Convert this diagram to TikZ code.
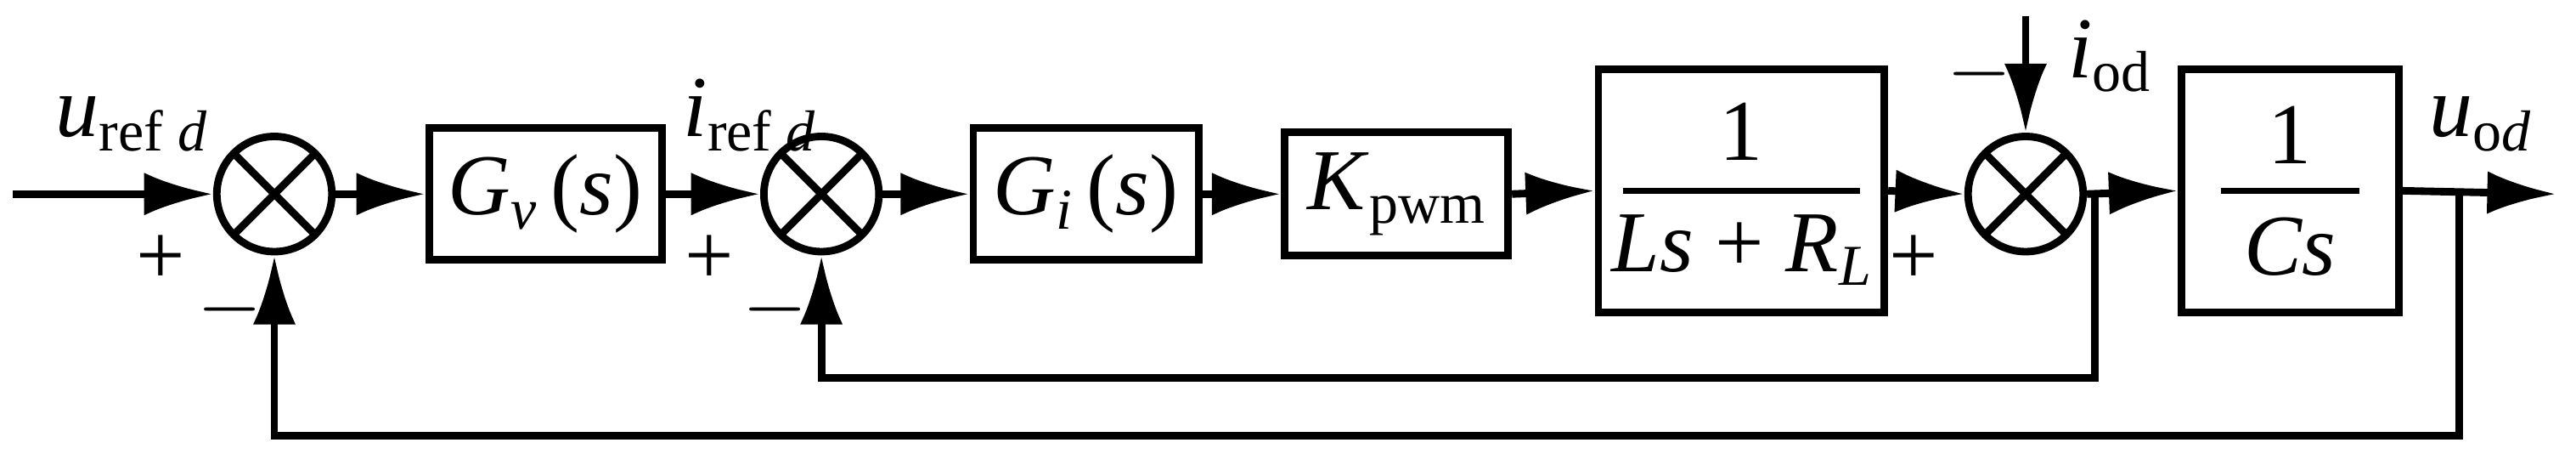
\documentclass[tikz,border=0pt]{standalone}
\usepackage{fontspec}
\setmainfont{Liberation Serif}
\usetikzlibrary{arrows.meta}
\newcommand{\vi}[1]{\textit{#1}}
\newcommand{\sbs}[1]{\raisebox{-0.35ex}{\fontsize{10}{11}\selectfont #1}}
\begin{document}
\begin{tikzpicture}[x=0.01cm,y=-0.01cm,line width=1.3pt,
  sum/.style={draw,circle,minimum size=0.7cm,inner sep=0pt,path picture={\draw (path picture bounding box.north west)--(path picture bounding box.south east) (path picture bounding box.north east)--(path picture bounding box.south west);}},
  arr/.style={-{Latex[length=0.42cm,width=0.26cm]}},
  lbl/.style={font=\fontsize{15}{17}\selectfont}]
\useasboundingbox (0,0) rectangle (1568,276);
\node[sum] (s1) at (167,118) {};
\node[sum] (s2) at (500,118) {};
\node[sum] (s3) at (1233,118) {};
\node[draw,minimum width=1.35cm,minimum height=0.8cm,lbl] (gv) at (332,118) {\vi{G}\sbs{\vi{v}}\,(\vi{s})};
\node[draw,minimum width=1.37cm,minimum height=0.8cm,lbl] (gi) at (661,118) {\vi{G}\sbs{\vi{i}}\,(\vi{s})};
\node[draw,minimum width=1.36cm,minimum height=0.75cm,lbl] (kp) at (850,118) {\vi{K}\sbs{pwm}};
\node[draw,minimum width=1.74cm,minimum height=1.48cm] (pl) at (1060,116) {};
\node[lbl] at (1060,80) {1};
\draw[line width=1pt] (988,116)--(1132,116);
\node[lbl] at (1060,152) {\vi{Ls} + \vi{R}\sbs{\vi{L}}};
\node[draw,minimum width=1.32cm,minimum height=1.48cm] (cs) at (1394,116) {};
\node[lbl] at (1394,82) {1};
\draw[line width=1pt] (1352,116)--(1436,116);
\node[lbl] at (1394,150) {\vi{Cs}};
\coordinate (in) at (8,118);
\coordinate (out) at (1556,118);
\coordinate (top) at (1233,10);
\coordinate (b1) at (1275,230);
\coordinate (b2) at (1497,265);
\draw[arr] (in)--(s1.west);
\draw[arr] (s1.east)--(gv.west);
\draw[arr] (gv.east)--(s2.west);
\draw[arr] (s2.east)--(gi.west);
\draw[arr] (gi.east)--(kp.west);
\draw[arr] (kp.east)--(pl.west);
\draw[arr] (pl.east)--(s3.west);
\draw[arr] (s3.east)--(cs.west);
\draw[arr] (cs.east)--(out);
\draw[arr] (top)--(s3.north);
\draw[arr] (1275,118)--(b1)-|(s2.south);
\draw[arr] (1497,118)--(b2)-|(s1.south);
\node[lbl,anchor=south west] at (20,106) {\vi{u}\sbs{ref \vi{d}}};
\node[lbl] at (98,158) {+};
\node[lbl] at (140,188) {$-$};
\node[lbl,anchor=south west] at (402,106) {\vi{i}\sbs{ref \vi{d}}};
\node[lbl] at (432,158) {+};
\node[lbl] at (472,188) {$-$};
\node[lbl] at (1165,158) {+};
\node[lbl] at (1205,45) {$-$};
\node[lbl,anchor=south west] at (1245,70) {\vi{i}\sbs{od}};
\node[lbl,anchor=south west] at (1465,106) {\vi{u}\sbs{o\vi{d}}};
\end{tikzpicture}
\end{document}
